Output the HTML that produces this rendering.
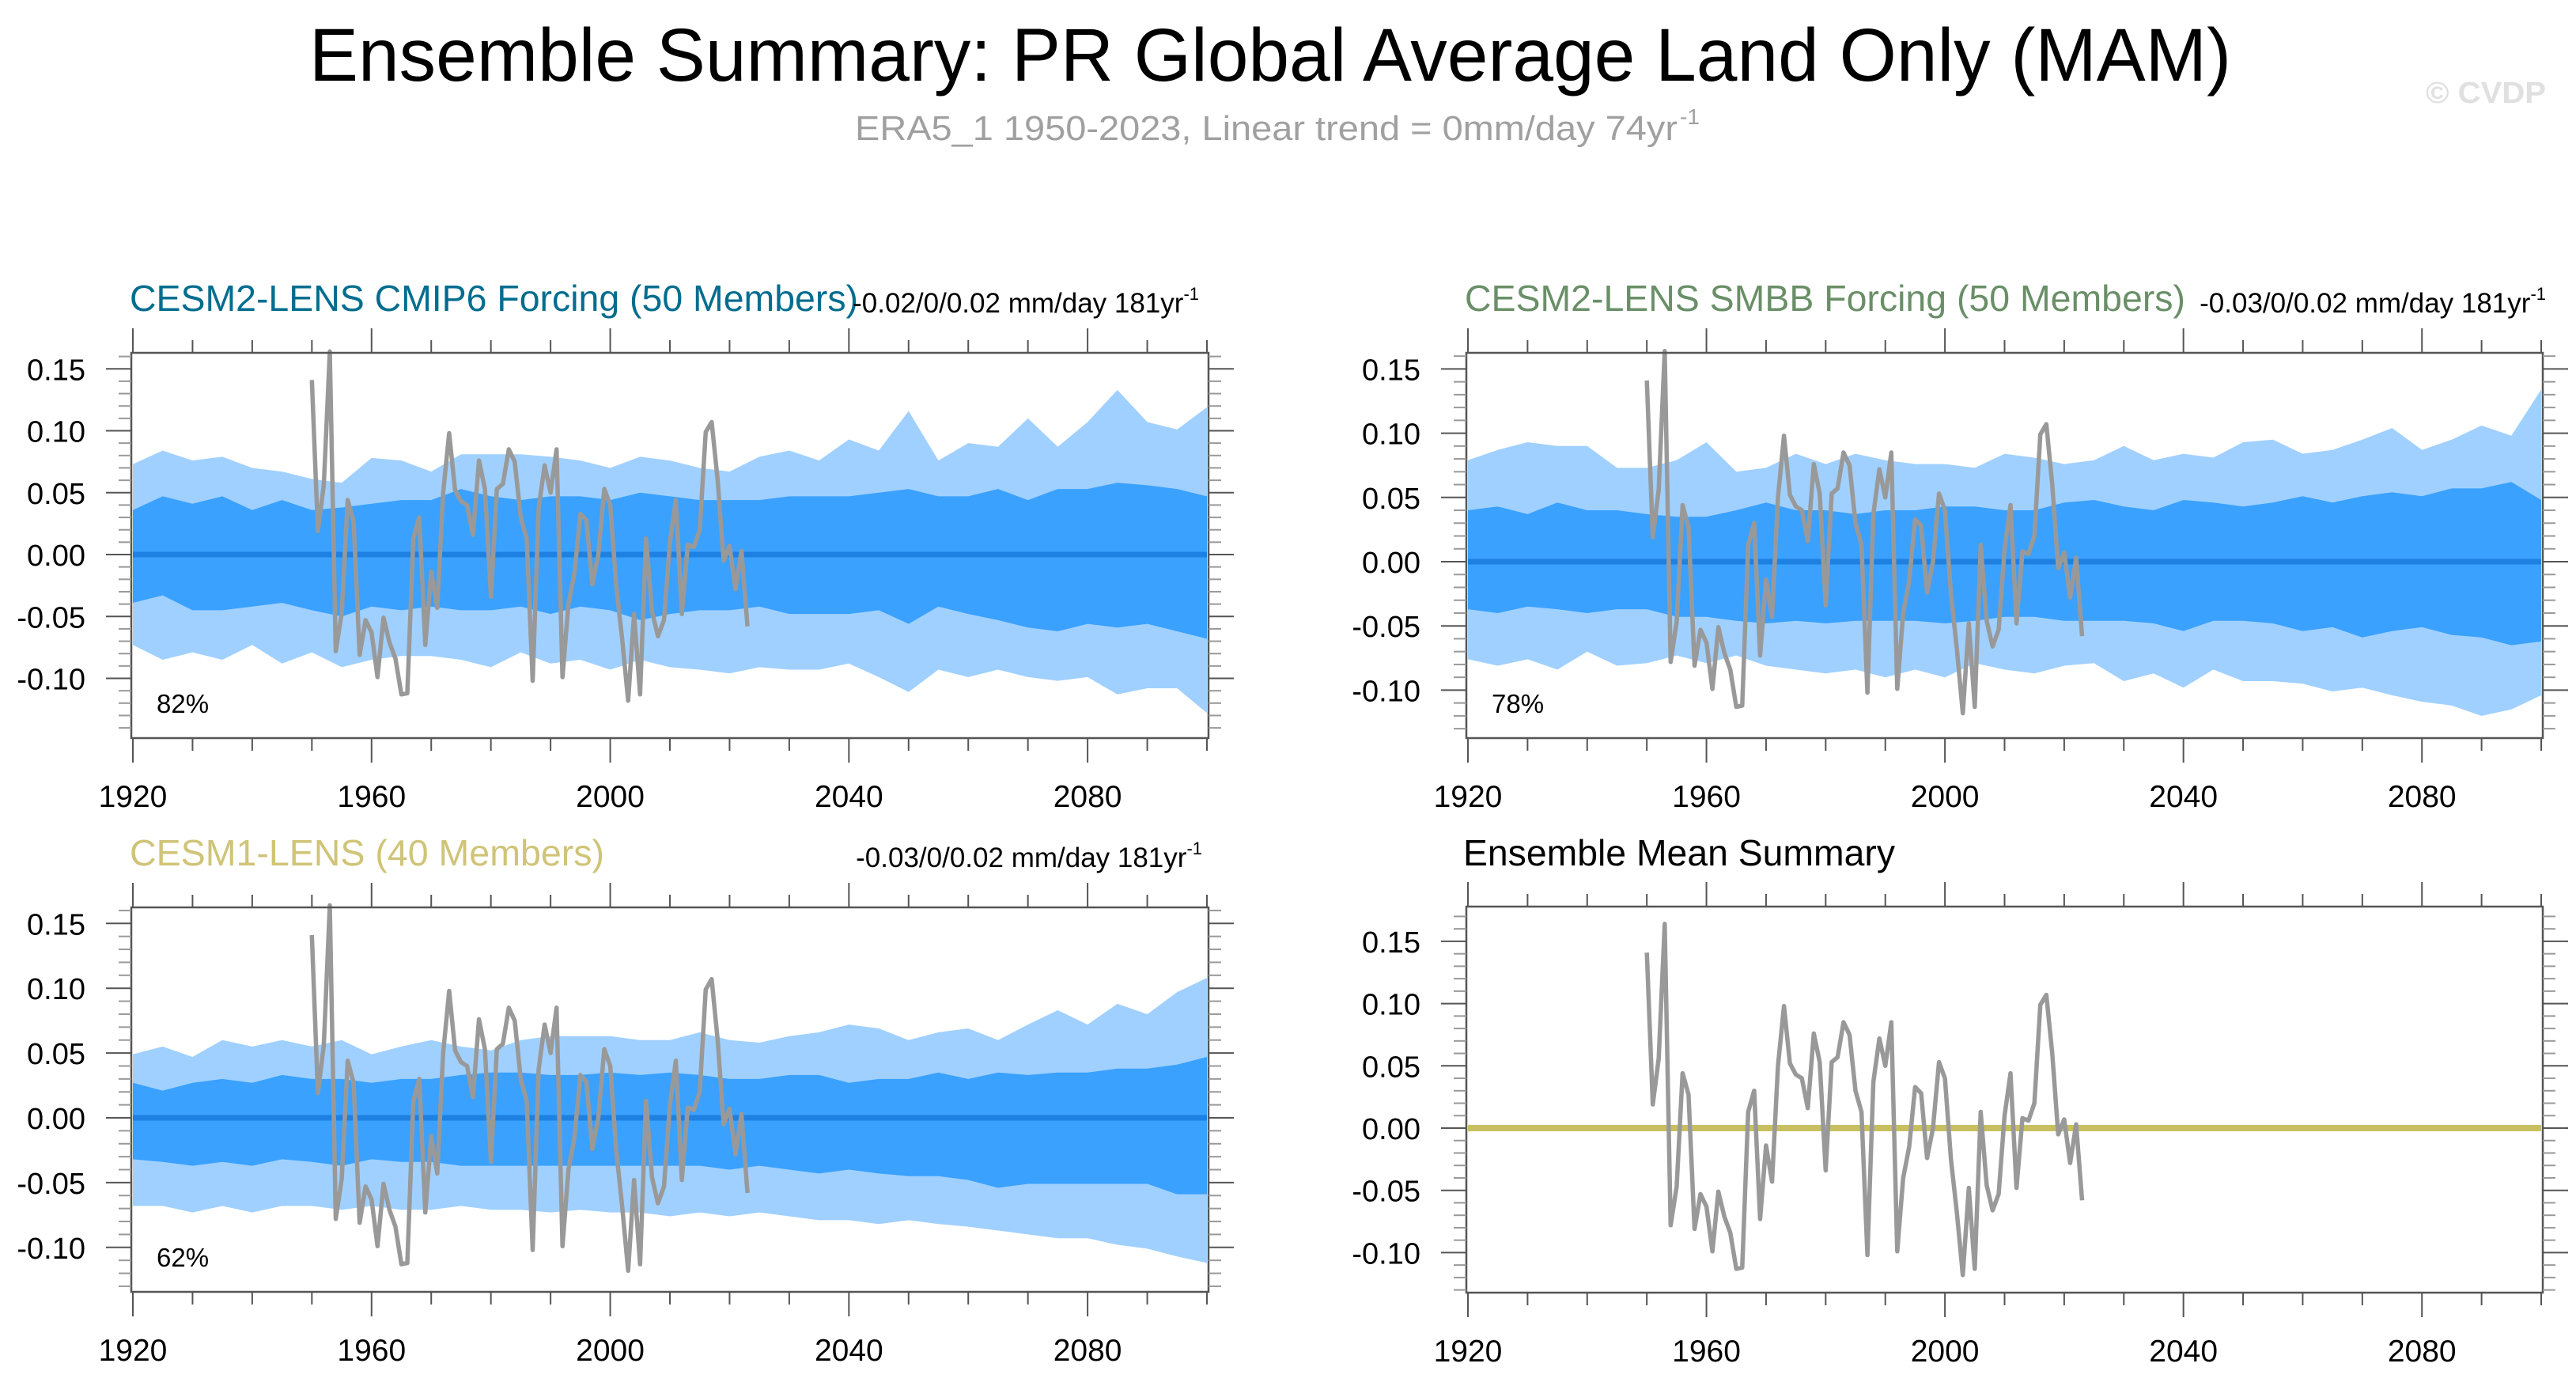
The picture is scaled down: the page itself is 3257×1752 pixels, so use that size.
<!DOCTYPE html>
<html><head><meta charset="utf-8"><style>
html,body{margin:0;padding:0;background:#fff}
svg{display:block;font-family:"Liberation Sans",sans-serif}
</style></head><body>
<svg id="chart" xmlns="http://www.w3.org/2000/svg" width="3257" height="1752" viewBox="0 0 3257 1752">
<rect x="0" y="0" width="3257" height="1752" fill="#fff"/>
<text x="391" y="102" font-size="95" textLength="2430" lengthAdjust="spacingAndGlyphs" fill="#000">Ensemble Summary: PR Global Average Land Only (MAM)</text>
<text x="1081" y="177" font-size="44" textLength="1040" lengthAdjust="spacingAndGlyphs" fill="#a0a0a0">ERA5_1 1950-2023, Linear trend = 0mm/day 74yr</text>
<text x="2124" y="157" font-size="28" fill="#a0a0a0">-1</text>
<text x="3067" y="130" font-size="38" font-weight="bold" textLength="152" lengthAdjust="spacingAndGlyphs" fill="#e0e0e0">© CVDP</text>
<g id="panels"></g>
</svg>
<script>
// ---- data ----
const era5Years = [];
for (let y = 1950; y <= 2023; y++) era5Years.push(y);
const era5Values = [0.141,0.019,0.056,0.164,-0.078,-0.047,0.044,0.027,-0.081,-0.053,
-0.063,-0.099,-0.051,-0.071,-0.084,-0.113,-0.112,0.013,0.030,-0.073,
-0.014,-0.043,0.050,0.098,0.052,0.043,0.040,0.016,0.076,0.053,
-0.034,0.053,0.057,0.085,0.075,0.030,0.013,-0.102,0.037,0.072,
0.050,0.085,-0.099,-0.040,-0.015,0.033,0.028,-0.024,0.000,0.053,
0.040,-0.025,-0.068,-0.118,-0.048,-0.113,0.013,-0.046,-0.066,-0.053,
0.010,0.044,-0.048,0.008,0.006,0.020,0.099,0.107,0.060,-0.005,
0.007,-0.028,0.003,-0.058];
const bandYears = [1920,1925,1930,1935,1940,1945,1950,1955,1960,1965,1970,1975,1980,1985,1990,1995,2000,2005,2010,2015,2020,2025,2030,2035,2040,2045,2050,2055,2060,2065,2070,2075,2080,2085,2090,2095,2100];
const xTickLabels = ["1920","1960","2000","2040","2080"];
const yTickLabels = ["-0.10","-0.05","0.00","0.05","0.10","0.15"];

// CESM2 CMIP6
const cmip6OuterHi = [0.073,0.084,0.076,0.079,0.070,0.067,0.061,0.058,0.078,0.076,0.067,0.081,0.081,0.081,0.079,0.076,0.070,0.079,0.076,0.070,0.067,0.079,0.084,0.076,0.093,0.084,0.116,0.076,0.090,0.087,0.110,0.087,0.107,0.133,0.107,0.101,0.119];
const cmip6InnerHi = [0.036,0.047,0.041,0.047,0.036,0.044,0.036,0.038,0.041,0.044,0.044,0.053,0.047,0.044,0.047,0.047,0.044,0.050,0.047,0.044,0.044,0.044,0.047,0.047,0.047,0.050,0.053,0.047,0.047,0.053,0.044,0.053,0.053,0.058,0.056,0.053,0.047];
const cmip6InnerLo = [-0.039,-0.033,-0.045,-0.045,-0.042,-0.039,-0.045,-0.050,-0.042,-0.045,-0.042,-0.045,-0.045,-0.042,-0.048,-0.042,-0.045,-0.053,-0.048,-0.045,-0.045,-0.042,-0.048,-0.048,-0.048,-0.045,-0.056,-0.042,-0.048,-0.053,-0.059,-0.062,-0.056,-0.059,-0.056,-0.062,-0.068];
const cmip6OuterLo = [-0.073,-0.085,-0.079,-0.085,-0.073,-0.088,-0.079,-0.091,-0.085,-0.082,-0.082,-0.085,-0.091,-0.079,-0.088,-0.085,-0.093,-0.085,-0.091,-0.093,-0.096,-0.091,-0.093,-0.093,-0.088,-0.099,-0.111,-0.093,-0.099,-0.093,-0.099,-0.102,-0.099,-0.113,-0.108,-0.108,-0.128];
// CESM2 SMBB
const smbbOuterHi = [0.079,0.087,0.093,0.090,0.090,0.073,0.073,0.079,0.093,0.070,0.073,0.084,0.076,0.084,0.079,0.076,0.076,0.073,0.084,0.081,0.076,0.079,0.090,0.079,0.084,0.081,0.093,0.095,0.084,0.087,0.095,0.104,0.087,0.095,0.106,0.098,0.134];
const smbbInnerHi = [0.040,0.043,0.037,0.046,0.040,0.040,0.037,0.035,0.035,0.040,0.046,0.040,0.040,0.037,0.040,0.040,0.043,0.043,0.040,0.040,0.046,0.048,0.043,0.040,0.048,0.046,0.043,0.046,0.051,0.046,0.051,0.054,0.051,0.057,0.057,0.062,0.048];
const smbbInnerLo = [-0.037,-0.040,-0.035,-0.037,-0.040,-0.037,-0.037,-0.043,-0.043,-0.046,-0.048,-0.046,-0.048,-0.046,-0.046,-0.046,-0.048,-0.046,-0.043,-0.043,-0.046,-0.046,-0.046,-0.048,-0.054,-0.046,-0.046,-0.048,-0.054,-0.051,-0.059,-0.054,-0.051,-0.057,-0.059,-0.065,-0.062];
const smbbOuterLo = [-0.076,-0.081,-0.076,-0.084,-0.070,-0.081,-0.079,-0.073,-0.079,-0.073,-0.081,-0.084,-0.087,-0.084,-0.090,-0.084,-0.090,-0.079,-0.084,-0.087,-0.081,-0.079,-0.093,-0.087,-0.098,-0.084,-0.093,-0.093,-0.095,-0.101,-0.098,-0.104,-0.109,-0.112,-0.120,-0.115,-0.104];
// CESM1
const cesm1OuterHi = [0.049,0.055,0.047,0.060,0.055,0.060,0.055,0.060,0.049,0.055,0.060,0.055,0.052,0.060,0.063,0.063,0.063,0.060,0.060,0.066,0.060,0.058,0.063,0.066,0.072,0.069,0.060,0.066,0.069,0.060,0.072,0.083,0.072,0.088,0.080,0.097,0.108];
const cesm1InnerHi = [0.027,0.021,0.027,0.030,0.027,0.033,0.030,0.030,0.027,0.030,0.030,0.033,0.035,0.035,0.033,0.033,0.035,0.033,0.035,0.033,0.030,0.030,0.033,0.033,0.027,0.030,0.030,0.035,0.030,0.035,0.033,0.035,0.035,0.038,0.038,0.041,0.047];
const cesm1InnerLo = [-0.032,-0.034,-0.037,-0.034,-0.037,-0.032,-0.034,-0.037,-0.032,-0.034,-0.034,-0.037,-0.037,-0.037,-0.037,-0.037,-0.037,-0.037,-0.037,-0.037,-0.040,-0.037,-0.040,-0.043,-0.040,-0.043,-0.045,-0.045,-0.048,-0.054,-0.051,-0.051,-0.051,-0.051,-0.051,-0.059,-0.059];
const cesm1OuterLo = [-0.068,-0.068,-0.073,-0.068,-0.073,-0.068,-0.068,-0.071,-0.068,-0.071,-0.071,-0.068,-0.071,-0.071,-0.073,-0.071,-0.073,-0.073,-0.076,-0.073,-0.076,-0.073,-0.076,-0.079,-0.079,-0.082,-0.079,-0.082,-0.084,-0.087,-0.090,-0.093,-0.093,-0.098,-0.101,-0.107,-0.112];
const ensembleMeanValues = [0,0];
const ensembleMeanYears = [1920,2100];

// ---- layout ----
const NS = "http://www.w3.org/2000/svg";
const root = document.getElementById("panels");
function mk(tag, attrs, parent) {
  const e = document.createElementNS(NS, tag);
  for (const k in attrs) e.setAttribute(k, attrs[k]);
  (parent || root).appendChild(e);
  return e;
}
const panels = [
  {key:"cmip6", x0:166, x1:1528, y0:446, y1:933, zeroY:701, perUnit:1565, title:"CESM2-LENS CMIP6 Forcing (50 Members)", tcol:"#006d8f", tx:164, tlen:921, ty:393, sub:"-0.02/0/0.02 mm/day 181yr", subEnd:1516, pct:"82%", bands:[cmip6OuterHi,cmip6InnerHi,cmip6InnerLo,cmip6OuterLo]},
  {key:"smbb", x0:1854, x1:3215, y0:446, y1:933, zeroY:710, perUnit:1624, title:"CESM2-LENS SMBB Forcing (50 Members)", tcol:"#6a8f68", tx:1852, tlen:911, ty:393, sub:"-0.03/0/0.02 mm/day 181yr", subEnd:3219, pct:"78%", bands:[smbbOuterHi,smbbInnerHi,smbbInnerLo,smbbOuterLo]},
  {key:"cesm1", x0:166, x1:1528, y0:1147, y1:1633, zeroY:1413, perUnit:1638, title:"CESM1-LENS (40 Members)", tcol:"#cfc478", tx:164, tlen:600, ty:1094, sub:"-0.03/0/0.02 mm/day 181yr", subEnd:1520, pct:"62%", bands:[cesm1OuterHi,cesm1InnerHi,cesm1InnerLo,cesm1OuterLo]},
  {key:"mean", x0:1854, x1:3215, y0:1146, y1:1634, zeroY:1426, perUnit:1574, title:"Ensemble Mean Summary", tcol:"#000", tx:1850, tlen:546, ty:1094, sub:null, bands:null}
];

panels.forEach(p => {
  const g = mk("g", {});
  
  
  const xs = yr => p.x0 + 2 + (yr - 1920) * (p.x1 - p.x0 - 4) / 180;
  const ys = v => p.zeroY - v * p.perUnit;
  const yTop = (p.zeroY - p.y0) / p.perUnit, yBot = (p.zeroY - p.y1) / p.perUnit;

  if (p.bands) {
    const [oh, ih, il, ol] = p.bands;
    const area = (hi, lo, col, nm) => {
      let d = "";
      bandYears.forEach((y, i) => { d += (i ? "L" : "M") + xs(y).toFixed(1) + "," + ys(hi[i]).toFixed(1); });
      for (let i = bandYears.length - 1; i >= 0; i--) d += "L" + xs(bandYears[i]).toFixed(1) + "," + ys(lo[i]).toFixed(1);
      const e = mk("path", {d: d + "Z", fill: col}, g);
      
      
    };
    area(oh, ol, "#a0d0ff", "outer-spread-band");
    area(ih, il, "#3aa1ff", "inner-spread-band");
    const z = mk("line", {x1: xs(1920), x2: xs(2100), y1: ys(0), y2: ys(0), stroke: "#1e80e0", "stroke-width": 7}, g);
    
    
  } else {
    const z = mk("line", {x1: xs(ensembleMeanYears[0]), x2: xs(ensembleMeanYears[1]), y1: ys(ensembleMeanValues[0]), y2: ys(ensembleMeanValues[1]), stroke: "#c8c060", "stroke-width": 8}, g);
    
    
  }
  // ERA5 line
  let d = "";
  era5Years.forEach((y, i) => { d += (i ? "L" : "M") + xs(y).toFixed(1) + "," + ys(era5Values[i]).toFixed(1); });
  const ob = mk("path", {d: d, fill: "none", stroke: "#999", "stroke-width": 5.5, "stroke-linejoin": "round"}, g);
  
  

  // box
  const bx = mk("rect", {x: p.x0, y: p.y0, width: p.x1 - p.x0, height: p.y1 - p.y0, fill: "none", stroke: "#555", "stroke-width": 2.5}, g);
  
  

  // x ticks
  for (let yr = 1920; yr <= 2100; yr += 10) {
    const major = (yr - 1920) % 40 === 0;
    const L = major ? 31 : 16;
    mk("line", {x1: xs(yr), x2: xs(yr), y1: p.y0, y2: p.y0 - L, stroke: "#555", "stroke-width": 2}, g);
    mk("line", {x1: xs(yr), x2: xs(yr), y1: p.y1, y2: p.y1 + L, stroke: "#555", "stroke-width": 2}, g);
  }
  xTickLabels.forEach(lab => {
    const t = mk("text", {x: xs(+lab), y: p.y1 + 87, "font-size": 39, "text-anchor": "middle", fill: "#000"}, g);
    t.textContent = lab;
    
    
  });
  // y ticks
  for (let k = -20; k <= 20; k++) {
    const v = k / 100;
    if (v > yTop + 1e-6 || v < yBot - 1e-6) continue;
    const major = k % 5 === 0;
    const L = major ? 32 : 16;
    mk("line", {x1: p.x0, x2: p.x0 - L, y1: ys(v), y2: ys(v), stroke: major ? "#555" : "#999", "stroke-width": 2}, g);
    mk("line", {x1: p.x1, x2: p.x1 + L, y1: ys(v), y2: ys(v), stroke: major ? "#555" : "#999", "stroke-width": 2}, g);
  }
  yTickLabels.forEach(lab => {
    const v = parseFloat(lab);
    if (v > yTop || v < yBot) return;
    const t = mk("text", {x: p.x0 - 58, y: ys(v) + 14, "font-size": 38, "text-anchor": "end", fill: "#000"}, g);
    t.textContent = lab;
    
    
  });
  // titles
  const tt = mk("text", {x: p.tx, y: p.ty, "font-size": 46, fill: p.tcol, textLength: p.tlen, lengthAdjust: "spacingAndGlyphs"}, g);
  tt.textContent = p.title;
  
  
  if (p.sub) {
    const st = mk("text", {x: p.subEnd, y: p.ty + 2, "font-size": 35, fill: "#000", "text-anchor": "end"}, g);
    
    
    const a = mk("tspan", {}, st); a.textContent = p.sub;
    const b = mk("tspan", {dy: -16, "font-size": 22}, st); b.textContent = "-1";
    const pc = mk("text", {x: p.x0 + 32, y: p.y1 - 32, "font-size": 33, fill: "#000"}, g);
    pc.textContent = p.pct;
    
    
  }
});
</script>
</body></html>
